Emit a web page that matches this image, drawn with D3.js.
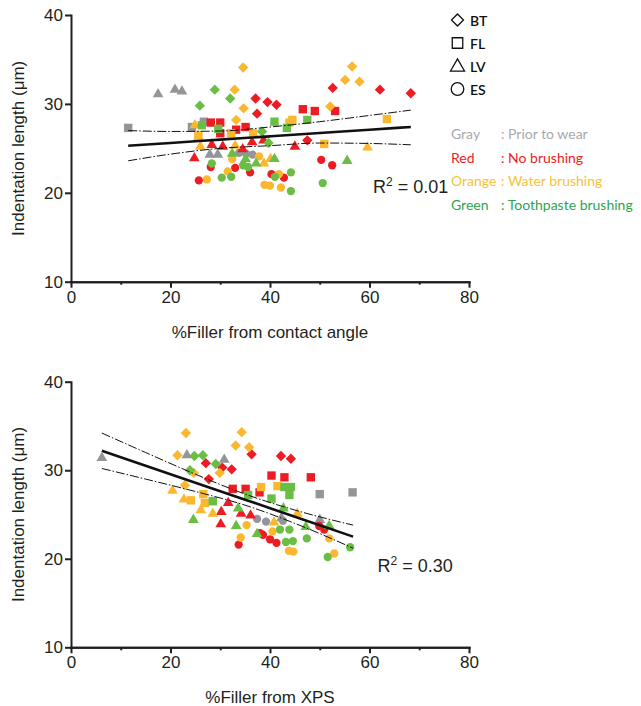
<!DOCTYPE html>
<html>
<head>
<meta charset="utf-8">
<script src="https://cdn.jsdelivr.net/npm/d3@7"></script>
<style>
	body{margin:0;background:#fff;}
	svg{display:block;}
	.axis path,.axis line{stroke:#231f20;stroke-width:2;}
	.axis text{font-family:"Liberation Sans",Arial,sans-serif;font-size:17px;fill:#231f20;}
	.title{font-family:"Liberation Sans",Arial,sans-serif;font-size:17px;fill:#231f20;}
	.legend{font-family:Lato,"Open Sans",sans-serif;font-size:14px;}
</style>
</head>
<body>
<svg id="chart" width="641" height="706"></svg>
<script>
// treatment groups, marker colours and legend text colours
const treatments = ["Gray","Red","Orange","Green"];
const treatmentNames = ["Prior to wear","No brushing","Water brushing","Toothpaste brushing"];
const markerColors = ["#939598","#ed1c24","#fbb82f","#6abd45"];
const textColors = ["#a7a9ac","#ed1c24","#f7c23a","#2ea44f"];
const materials = ["BT","FL","LV","ES"];

// %Filler from contact angle vs indentation length: [material, x, y]
const contactGray = [
	["FL",11.5,27.3],["FL",24.3,27.4],["FL",26.7,28.0],
	["LV",17.5,31.1],["LV",20.9,31.6],["LV",22.3,31.4],["LV",27.9,24.3],["LV",29.5,24.3],
	["ES",33.8,24.5],["ES",35.2,24.4],["ES",36.5,24.3]
];
const contactRed = [
	["BT",37.1,30.6],["BT",39.5,30.2],["BT",41.3,29.9],["BT",37.4,28.9],["BT",52.6,31.8],["BT",62.1,31.6],["BT",68.3,31.2],["BT",47.5,25.9],
	["FL",28.1,27.9],["FL",30.0,27.9],["FL",30.0,26.7],["FL",33.2,27.1],["FL",35.1,27.4],["FL",46.6,29.4],["FL",49.0,29.2],["FL",53.1,29.2],
	["LV",24.8,23.9],["LV",28.3,25.4],["LV",30.5,25.2],["LV",34.5,24.9],["LV",36.4,25.7],["LV",38.7,25.9],["LV",45.0,25.2],
	["ES",25.7,21.4],["ES",28.1,22.9],["ES",33.0,22.8],["ES",36.0,22.3],["ES",40.3,22.1],["ES",42.8,21.7],["ES",50.3,23.7],["ES",52.5,23.1]
];
const contactOrange = [
	["BT",34.6,34.1],["BT",32.9,31.6],["BT",34.7,29.5],["BT",33.2,28.2],["BT",56.5,34.2],["BT",55.1,32.7],["BT",58.0,32.5],["BT",52.1,29.7],
	["FL",43.9,27.9],["FL",44.5,28.2],["FL",63.5,28.3],["FL",50.9,25.5],["FL",32.2,26.7],["FL",36.6,26.7],["FL",25.6,26.5],
	["LV",24.9,27.6],["LV",25.6,26.3],["LV",26.0,25.2],["LV",38.8,23.3],["LV",40.1,23.8],["LV",59.6,25.1],["LV",33.0,25.3],
	["ES",27.3,21.5],["ES",31.5,22.4],["ES",32.4,23.8],["ES",37.8,24.1],["ES",38.9,20.9],["ES",40.0,20.8],["ES",41.8,22.1],["ES",42.2,20.6]
];
const contactGreen = [
	["BT",25.9,29.8],["BT",28.9,31.6],["BT",32.0,30.6],["BT",39.7,25.6],["BT",38.4,26.9],
	["FL",26.3,27.6],["FL",29.6,27.2],["FL",40.9,28.0],["FL",47.5,28.2],["FL",43.4,27.3],
	["LV",32.4,24.4],["LV",35.1,23.8],["LV",37.2,23.3],["LV",40.9,23.8],["LV",55.5,23.6],
	["ES",30.3,21.7],["ES",32.2,21.8],["ES",34.6,23.1],["ES",35.6,22.9],["ES",44.2,22.3],["ES",50.6,21.1],["ES",44.2,20.2],["ES",41.0,21.8],["ES",28.3,23.3]
];
// fitted line and 95% band: [x, fit, lower, upper]
const contactFit = [
	[11.5,25.3,23.6,27.0],[20,25.61,24.35,26.9],[30,25.98,25.0,26.95],[40,26.35,25.3,27.4],
	[50,26.72,25.6,28.0],[60,27.1,25.55,28.7],[68.3,27.4,25.4,29.3]
];

// %Filler from XPS vs indentation length: [material, x, y]
const xpsGray = [
	["LV",6.2,31.4],["LV",23.3,31.7],["LV",30.8,31.2],["LV",42.3,24.6],["LV",50.0,24.4],
	["FL",50.0,27.3],["FL",56.6,27.5],
	["ES",37.4,24.5],["ES",39.2,24.2],["ES",42.6,24.3]
];
const xpsRed = [
	["BT",27.1,30.8],["BT",30.4,30.3],["BT",32.3,30.1],["BT",27.7,29.0],["BT",36.3,31.8],["BT",42.2,31.6],["BT",44.2,31.3],
	["FL",32.5,27.9],["FL",35.1,27.9],["FL",40.3,29.4],["FL",42.9,29.2],["FL",48.2,29.2],["FL",37.9,27.5],
	["LV",31.6,26.3],["LV",30.2,25.3],["LV",30.1,23.9],["LV",34.2,25.1],["LV",36.1,24.9],
	["ES",33.7,21.6],["ES",38.0,22.9],["ES",38.6,22.7],["ES",40.0,22.2],["ES",41.3,21.8],["ES",49.9,23.7],["ES",50.9,23.3]
];
const xpsOrange = [
	["BT",23.1,34.2],["BT",21.4,31.7],["BT",24.7,29.7],["BT",22.9,28.3],["BT",34.3,34.3],["BT",33.1,32.8],["BT",35.8,32.6],["BT",29.9,29.7],
	["FL",24.1,26.6],["FL",26.6,27.3],["FL",26.9,26.3],["FL",38.2,28.1],["FL",41.5,28.2],
	["LV",20.4,27.7],["LV",22.7,26.7],["LV",26.1,25.5],["LV",28.5,25.1],["LV",40.8,24.1],["LV",45.5,25.1],
	["ES",35.3,23.8],["ES",34.1,22.4],["ES",40.5,23.1],["ES",43.8,20.9],["ES",44.7,20.8],["ES",51.9,22.3],["ES",52.9,20.6]
];
const xpsGreen = [
	["BT",24.8,31.6],["BT",26.5,31.7],["BT",23.9,30.0],["BT",29.1,30.7],
	["FL",28.5,26.5],["FL",40.3,26.8],["FL",42.9,28.1],["FL",44.2,28.1],["FL",43.9,27.2],["FL",35.6,27.2],
	["LV",24.6,24.4],["LV",33.6,25.7],["LV",33.2,23.7],["LV",37.4,22.8],["LV",42.7,25.7],["LV",47.2,23.6],["LV",51.9,23.7],
	["ES",42.0,23.3],["ES",43.9,23.3],["ES",43.2,21.9],["ES",44.6,22.0],["ES",47.4,22.3],["ES",51.6,20.2],["ES",56.1,21.3]
];
const xpsFit = [
	[6.2,32.2,30.2,34.2],[15,30.51,29.0,32.0],[25,28.59,27.6,29.55],[35,26.67,26.05,27.3],
	[45,24.75,24.0,25.5],[56.7,22.5,21.2,23.8]
];

const xTicks = [0,20,40,60,80];
const xMinorTicks = [10,30,50,70];
const yTicks = [10,20,30,40];

const svg = d3.select("#chart");

// marker shapes per material
const shapeOf = {
	BT: {type: d3.symbolSquare, size: 54, rotate: 45},
	FL: {type: d3.symbolSquare, size: 70, rotate: 0},
	LV: {type: d3.symbolTriangle, size: 50, rotate: 0},
	ES: {type: d3.symbolCircle, size: 54, rotate: 0}
};

function drawPanel(cfg){
	const x = d3.scaleLinear().domain([0,80]).range([71,469]);
	const y = d3.scaleLinear().domain([10,40]).range([cfg.bottom,cfg.top]);
	const g = svg.append("g");

	// points, one group per treatment
	cfg.groups.forEach((pts,i)=>{
		g.append("g")
			.selectAll("path")
			.data(pts)
			.join("path")
				.attr("d", d => d3.symbol().type(shapeOf[d[0]].type).size(shapeOf[d[0]].size)())
				.attr("transform", d => `translate(${x(d[1])},${y(d[2])}) rotate(${shapeOf[d[0]].rotate})`)
				.attr("fill", markerColors[i]);
	});

	// fit and band
	const line = col => d3.line().curve(d3.curveMonotoneX).x(d => x(d[0])).y(d => y(d[col]));
	g.append("path").attr("d", line(2)(cfg.fit)).attr("fill","none").attr("stroke","#111").attr("stroke-width",1).attr("stroke-dasharray","9,2,1.5,2");
	g.append("path").attr("d", line(3)(cfg.fit)).attr("fill","none").attr("stroke","#111").attr("stroke-width",1).attr("stroke-dasharray","9,2,1.5,2");
	g.append("path").attr("d", line(1)(cfg.fit)).attr("fill","none").attr("stroke","#111").attr("stroke-width",2.6);

	// axes
	g.append("g").classed("axis",true)
		.attr("transform",`translate(0,${cfg.bottom})`)
		.call(d3.axisBottom(x).tickValues(xMinorTicks).tickSize(3).tickSizeOuter(0).tickFormat(""));
	g.append("g").classed("axis",true)
		.attr("transform",`translate(0,${cfg.bottom})`)
		.call(d3.axisBottom(x).tickValues(xTicks).tickSize(6).tickSizeOuter(0).tickPadding(3));
	g.append("g").classed("axis",true)
		.attr("transform","translate(71,0)")
		.call(d3.axisLeft(y).tickValues(yTicks).tickSize(6).tickSizeOuter(0).tickPadding(2));
	g.selectAll(".axis .domain").attr("stroke-linecap","square");

	g.append("text").classed("title",true)
		.attr("x",270).attr("y",cfg.bottom+56)
		.attr("text-anchor","middle")
		.text(cfg.xTitle);
	g.append("text").classed("title",true)
		.attr("transform",`translate(24,${(cfg.top+cfg.bottom)/2}) rotate(-90)`)
		.attr("text-anchor","middle")
		.text("Indentation length (\u03bcm)");

	const r2 = g.append("text").classed("title",true)
		.attr("x",cfg.r2x).attr("y",cfg.r2y).style("font-size","18px");
	r2.append("tspan").text("R");
	r2.append("tspan").attr("dy",-7).style("font-size","12px").text("2");
	r2.append("tspan").attr("dy",7).text(" = "+cfg.r2);
}

drawPanel({
	top:15, bottom:281.7,
	groups:[contactGray,contactRed,contactOrange,contactGreen],
	fit:contactFit,
	xTitle:"%Filler from contact angle",
	r2:"0.01", r2x:373, r2y:192.5
});
drawPanel({
	top:381.7, bottom:647.3,
	groups:[xpsGray,xpsRed,xpsOrange,xpsGreen],
	fit:xpsFit,
	xTitle:"%Filler from XPS",
	r2:"0.30", r2x:377.5, r2y:571.5
});

// shape legend
const legendShapes = {
	BT: {type: d3.symbolSquare, size: 72, rotate: 45},
	FL: {type: d3.symbolSquare, size: 110, rotate: 0},
	LV: {type: d3.symbolTriangle, size: 85, rotate: 0},
	ES: {type: d3.symbolCircle, size: 125, rotate: 0}
};
const shapeLegend = svg.append("g").classed("legend",true);
materials.forEach((m,i)=>{
	const cy = 20 + i*23;
	shapeLegend.append("path")
		.attr("d", d3.symbol().type(legendShapes[m].type).size(legendShapes[m].size)())
		.attr("transform",`translate(457.5,${cy + (m==="LV"?1:0)}) rotate(${legendShapes[m].rotate})`)
		.attr("fill","none").attr("stroke","#111").attr("stroke-width",1.3);
	shapeLegend.append("text")
		.attr("x",470).attr("y",cy+5.5)
		.style("font-weight",600).attr("fill","#111")
		.text(m);
});

// colour legend
const colorLegend = svg.append("g").classed("legend",true);
treatments.forEach((t,i)=>{
	const by = 139 + i*23.6;
	colorLegend.append("text").attr("x",451).attr("y",by).attr("fill",textColors[i]).text(t);
	colorLegend.append("text").attr("x",501).attr("y",by).attr("fill",textColors[i]).text(": "+treatmentNames[i]);
});
</script>
</body>
</html>
